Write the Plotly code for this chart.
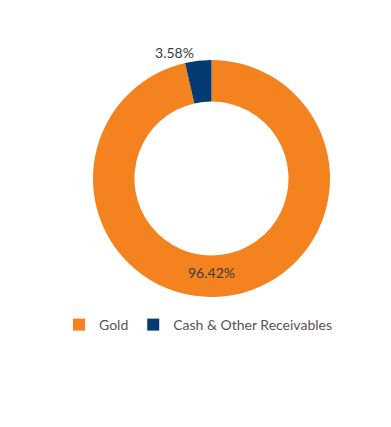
import plotly.graph_objects as go

labels = ["Gold", "Cash & Other Receivables"]
values = [96.42, 3.58]
text_labels = ["96.42%", "3.58%"]
colors = ["#F4831F", "#033A71"]

W, H = 391, 427
dx, dy = 7, 8
fig = go.Figure(go.Pie(
    labels=labels,
    values=values,
    text=text_labels,
    textinfo="text",
    textposition=["inside", "outside"],
    hole=0.65,
    sort=False,
    direction="clockwise",
    rotation=0,
    marker=dict(colors=colors, line=dict(width=0)),
    insidetextfont=dict(color="#3a3a3a", size=14, family="Lato"),
    outsidetextfont=dict(color="#3a3a3a", size=14, family="Lato"),
    insidetextorientation="horizontal",
    domain=dict(x=[(92 - dx) / W, (329 - dx) / W], y=[(H - 297 + dy) / H, (H - 60 + dy) / H]),
    showlegend=True,
))
fig.update_layout(
    width=W, height=H,
    margin=dict(l=0, r=0, t=0, b=0),
    paper_bgcolor="white",
    font=dict(family="Lato", size=14, color="#555555"),
    legend=dict(orientation="h", x=51 / W, xanchor="left", y=(H - 301) / H, yanchor="top",
                font=dict(size=14, color="#555555"), traceorder="normal"),
)
fig.write_html("out.html")
